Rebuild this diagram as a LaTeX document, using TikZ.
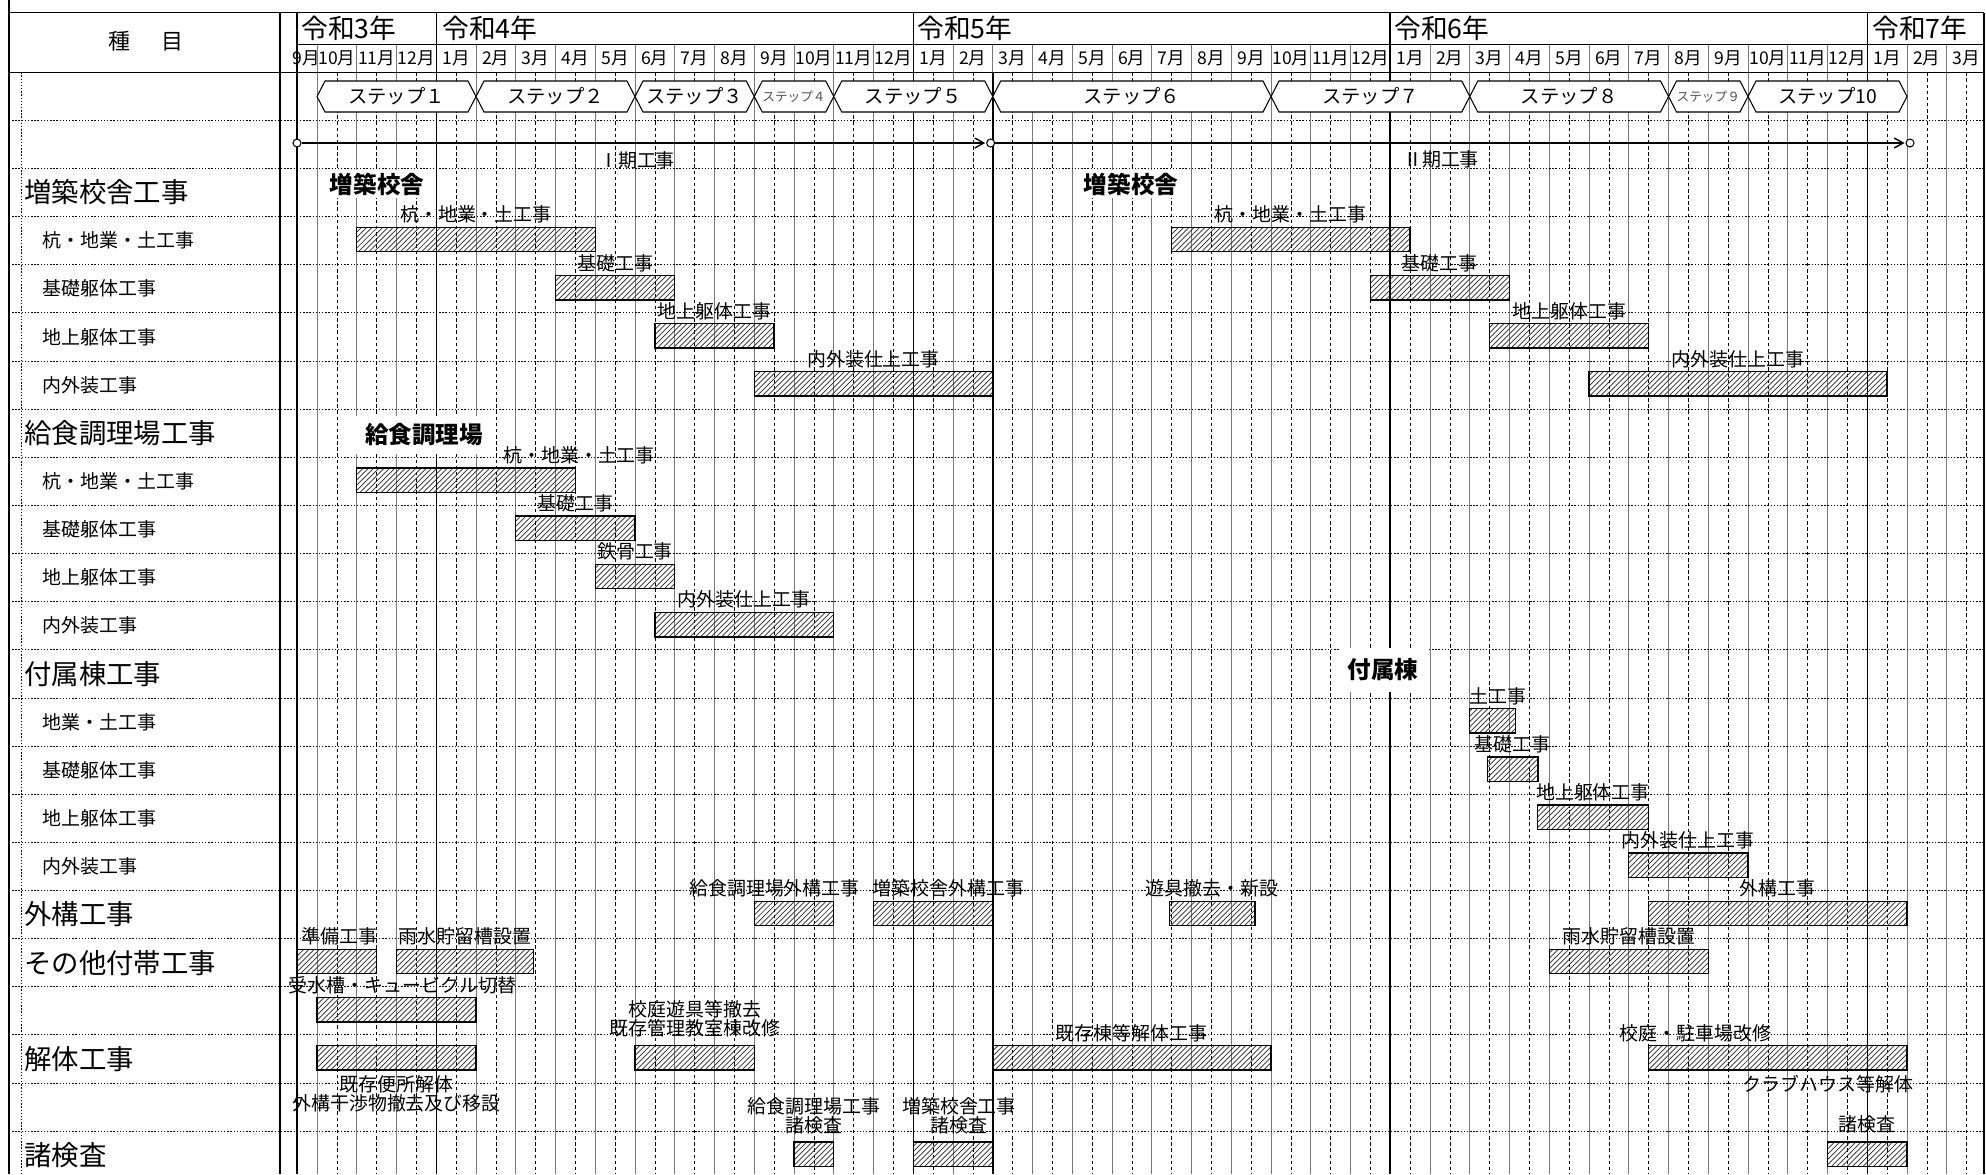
\documentclass[tikz,border=0pt]{standalone}
\usepackage{fontspec}
\setmainfont{Noto Sans CJK JP}
\usetikzlibrary{arrows.meta,positioning,patterns}
\definecolor{gridgray}{RGB}{120,120,120}
\definecolor{hatchgray}{RGB}{40,40,40}
\definecolor{smallstepgray}{RGB}{80,80,80}
\pgfmathdeclarefunction{monthx}{1}{\pgfmathparse{317+39.75*(#1)}}
\pgfmathdeclarefunction{rowtop}{1}{\pgfmathparse{72.2+48.13*(#1)}}
\tikzset{
  frameline/.style={draw=black, line width=0.7pt},
  monthline/.style={draw=gridgray, line width=0.5pt},
  halfline/.style={draw=black, line width=0.4pt, dash pattern=on 2pt off 1.5pt},
  yearline/.style={draw=black, line width=0.75pt},
  phaseline/.style={draw=black, line width=1.3pt},
  rowline/.style={draw=black, line width=0.45pt, dash pattern=on 0.8pt off 1pt},
  barbox/.style={rectangle, draw=black, line width=0.8pt, pattern=north east lines, pattern color=hatchgray, minimum height=0.488cm, inner sep=0pt, outer sep=0pt},
  barlabel/.style={inner sep=0pt, align=center, font=\fontsize{10.8}{10.8}\selectfont},
  biglabel/.style={anchor=west, inner sep=0pt, font=\fontsize{15.6}{16}\selectfont},
  itemlabel/.style={anchor=west, inner sep=0pt, font=\fontsize{10.8}{11}\selectfont},
  sectionlabel/.style={fill=white, inner xsep=5pt, inner ysep=4.5pt, font=\fontsize{13.4}{14}\selectfont\bfseries},
  headlabel/.style={inner sep=0pt, font=\fontsize{12.5}{13}\selectfont},
  yearlabel/.style={anchor=west, inner sep=0pt, font=\fontsize{15.2}{16}\selectfont},
  monthlabel/.style={inner sep=0pt, font=\fontsize{10}{10}\selectfont},
  stepshape/.style={draw=black, line width=0.6pt, fill=white, line join=miter},
  steptext/.style={inner sep=0pt, font=\fontsize{11}{11}\selectfont},
  smallstep/.style={inner sep=0pt, text=smallstepgray, font=\fontsize{7.2}{7.2}\selectfont},
  periodmark/.style={circle, draw=black, line width=0.6pt, fill=white, minimum size=0.16cm, inner sep=0pt},
  periodflow/.style={-{Straight Barb[length=1.8mm,width=2mm]}, draw=black, line width=0.8pt, shorten >=0.5pt},
  periodlabel/.style={inner sep=0pt, font=\fontsize{10.8}{11}\selectfont}
}
\newcommand{\workbar}[4]{%
  \node[barbox, anchor=north west, minimum width={(#4-(#3))*0.795cm}] (#1) at ({monthx(#3)},{rowtop(#2)+10.8}) {};}
\newcommand{\stephex}[5]{%
  \draw[stepshape] ({monthx(#2)},96.5) -- ({monthx(#2)+8},81) -- ({monthx(#3)-8},81) -- ({monthx(#3)},96.5) -- ({monthx(#3)-8},112) -- ({monthx(#2)+8},112) -- cycle;
  \node[#4] (#1) at ({monthx((#2+#3)/2)},96.5) {#5};}

\begin{document}
\begin{tikzpicture}[x=0.02cm, y=-0.02cm, node distance=2pt]
  \useasboundingbox (0,0) rectangle (1986,1174);

  % grid
  \foreach \m in {0,...,41} \draw[halfline] ({monthx(\m+0.5)},72.2) -- ({monthx(\m+0.5)},1174);
  \foreach \m in {0,...,41} \draw[monthline] ({monthx(\m)},44.3) -- ({monthx(\m)},1174);
  \foreach \k in {1,...,22} \draw[rowline] (9,{rowtop(\k)}) -- (1984,{rowtop(\k)});
  \draw[rowline] (21.5,72.2) -- (21.5,1174);
  \foreach \m in {3,15,39} \draw[yearline] ({monthx(\m)},12.7) -- ({monthx(\m)},1174);
  \draw[phaseline] ({monthx(27)},12.7) -- ({monthx(27)},1174);
  \draw[phaseline] ({monthx(17)},72.2) -- ({monthx(17)},1174);
  \draw[frameline] (9,0) -- (9,1174);
  \draw[frameline] (9,12.7) -- (1984,12.7);
  \draw[frameline] (297,44.3) -- (1984,44.3);
  \draw[frameline] (9,72.2) -- (1984,72.2);
  \draw[frameline] (280,12.7) -- (280,1174);
  \draw[frameline] (297,12.7) -- (297,1174);
  \draw[frameline] (1984,12.7) -- (1984,1174);

  % header
  \node[headlabel] (kind) at (146,41.5) {種\hspace{1.4em}目};
  \node[yearlabel] (yr3) at (301,28) {令和3年};
  \node[yearlabel] (yr4) at (442,28) {令和4年};
  \node[yearlabel] (yr5) at (917,28) {令和5年};
  \node[yearlabel] (yr6) at (1394,28) {令和6年};
  \node[yearlabel] (yr7) at (1872,28) {令和7年};
  \node[monthlabel] (monsep) at (306,58.3) {9月};
  \foreach \m in {0,...,41}{
    \pgfmathtruncatemacro{\mon}{mod(\m+9,12)+1}
    \node[monthlabel] (mon\m) at ({monthx(\m+0.5)},58.3) {\mon 月};
  }

  % steps
  \stephex{st1}{0}{4}{steptext}{ステップ１}
  \stephex{st2}{4}{8}{steptext}{ステップ２}
  \stephex{st3}{8}{11}{steptext}{ステップ３}
  \stephex{st4}{11}{13}{smallstep}{ステップ４}
  \stephex{st5}{13}{17}{steptext}{ステップ５}
  \stephex{st6}{17}{24}{steptext}{ステップ６}
  \stephex{st7}{24}{29}{steptext}{ステップ７}
  \stephex{st8}{29}{34}{steptext}{ステップ８}
  \stephex{st9}{34}{36}{smallstep}{ステップ９}
  \stephex{st10}{36}{40}{steptext}{ステップ10}

  % periods
  \node[periodmark] (p1a) at (297,143) {};
  \node[periodmark] (p1b) at (990.6,143) {};
  \node[periodmark] (p2b) at (1910,143) {};
  \draw[periodflow] (p1a) -- (p1b);
  \draw[periodflow] (p1b) -- (p2b);
  \node[periodlabel] (per1) at (637,160) {Ⅰ期工事};
  \node[periodlabel] (per2) at (1441,159) {Ⅱ期工事};

  % item column
  \node[biglabel] (sec2) at (24,{rowtop(2)+24.07}) {増築校舎工事};
  \node[itemlabel] (it3) at (42,{rowtop(3)+24.07}) {杭・地業・土工事};
  \node[itemlabel] (it4) at (42,{rowtop(4)+24.07}) {基礎躯体工事};
  \node[itemlabel] (it5) at (42,{rowtop(5)+24.07}) {地上躯体工事};
  \node[itemlabel] (it6) at (42,{rowtop(6)+24.07}) {内外装工事};
  \node[biglabel] (sec7) at (24,{rowtop(7)+24.07}) {給食調理場工事};
  \node[itemlabel] (it8) at (42,{rowtop(8)+24.07}) {杭・地業・土工事};
  \node[itemlabel] (it9) at (42,{rowtop(9)+24.07}) {基礎躯体工事};
  \node[itemlabel] (it10) at (42,{rowtop(10)+24.07}) {地上躯体工事};
  \node[itemlabel] (it11) at (42,{rowtop(11)+24.07}) {内外装工事};
  \node[biglabel] (sec12) at (24,{rowtop(12)+24.07}) {付属棟工事};
  \node[itemlabel] (it13) at (42,{rowtop(13)+24.07}) {地業・土工事};
  \node[itemlabel] (it14) at (42,{rowtop(14)+24.07}) {基礎躯体工事};
  \node[itemlabel] (it15) at (42,{rowtop(15)+24.07}) {地上躯体工事};
  \node[itemlabel] (it16) at (42,{rowtop(16)+24.07}) {内外装工事};
  \node[biglabel] (sec17) at (24,{rowtop(17)+24.07}) {外構工事};
  \node[biglabel] (sec18) at (24,{rowtop(18)+24.07}) {その他付帯工事};
  \node[biglabel] (sec20) at (24,{rowtop(20)+24.07}) {解体工事};
  \node[biglabel] (sec22) at (24,{rowtop(22)+24.07}) {諸検査};

  % bars
  \workbar{b3a}{3}{1}{7}
  \workbar{b3b}{3}{21.5}{27.5}
  \workbar{b4a}{4}{6}{9}
  \workbar{b4b}{4}{26.5}{30}
  \workbar{b5a}{5}{8.5}{11.5}
  \workbar{b5b}{5}{29.5}{33.5}
  \workbar{b6a}{6}{11}{17}
  \workbar{b6b}{6}{32}{39.5}
  \workbar{b8a}{8}{1}{6.5}
  \workbar{b9a}{9}{5}{8}
  \workbar{b10a}{10}{7}{9}
  \workbar{b11a}{11}{8.5}{13}
  \workbar{b13a}{13}{29}{30.15}
  \workbar{b14a}{14}{29.45}{30.72}
  \workbar{b15a}{15}{30.7}{33.5}
  \workbar{b16a}{16}{33}{36}
  \workbar{b17a}{17}{11}{13}
  \workbar{b17b}{17}{14}{17}
  \workbar{b17c}{17}{21.45}{23.6}
  \workbar{b17d}{17}{33.5}{40}
  \workbar{b18a}{18}{-0.5}{1.5}
  \workbar{b18b}{18}{2}{5.45}
  \workbar{b18c}{18}{31}{35}
  \workbar{b19a}{19}{0}{4}
  \workbar{b20a}{20}{0}{4}
  \workbar{b20b}{20}{8}{11}
  \workbar{b20c}{20}{17}{24}
  \workbar{b20d}{20}{33.5}{40}
  \workbar{b22a}{22}{12}{13}
  \workbar{b22b}{22}{15}{17}
  \workbar{b22c}{22}{38}{40}

  % bar labels
  \node[barlabel, above=of b3a] (l3a) {杭・地業・土工事};
  \node[barlabel, above=of b3b] (l3b) {杭・地業・土工事};
  \node[barlabel, above=of b4a] (l4a) {基礎工事};
  \node[barlabel, above=of b4b] (l4b) {基礎工事};
  \node[barlabel, above=of b5a] (l5a) {地上躯体工事};
  \node[barlabel, above=of b5b] (l5b) {地上躯体工事};
  \node[barlabel, above=of b6a] (l6a) {内外装仕上工事};
  \node[barlabel, above=of b6b] (l6b) {内外装仕上工事};
  \node[barlabel, above=of b8a, xshift=2.26cm] (l8a) {杭・地業・土工事};
  \node[barlabel, above=of b9a] (l9a) {基礎工事};
  \node[barlabel, above=of b10a] (l10a) {鉄骨工事};
  \node[barlabel, above=of b11a] (l11a) {内外装仕上工事};
  \node[barlabel, above=of b13a, xshift=0.1cm] (l13a) {土工事};
  \node[barlabel, above=of b14a] (l14a) {基礎工事};
  \node[barlabel, above=of b15a] (l15a) {地上躯体工事};
  \node[barlabel, above=of b16a] (l16a) {内外装仕上工事};
  \node[barlabel, above=of b17a, xshift=-0.39cm] (l17a) {給食調理場外構工事};
  \node[barlabel, above=of b17b, xshift=0.3cm] (l17b) {増築校舎外構工事};
  \node[barlabel, above=of b17c] (l17c) {遊具撤去・新設};
  \node[barlabel, above=of b17d] (l17d) {外構工事};
  \node[barlabel, above=of b18a, xshift=0.06cm] (l18a) {準備工事};
  \node[barlabel, above=of b18b] (l18b) {雨水貯留槽設置};
  \node[barlabel, above=of b18c] (l18c) {雨水貯留槽設置};
  \node[barlabel, above=of b19a, xshift=0.12cm] (l19a) {受水槽・キュービクル切替};
  \node[barlabel, below=3pt of b20a] (l20a) {既存便所解体\\外構干渉物撤去及び移設};
  \node[barlabel, above=4.5pt of b20b] (l20b) {校庭遊具等撤去\\既存管理教室棟改修};
  \node[barlabel, above=of b20c] (l20c) {既存棟等解体工事};
  \node[barlabel, above=of b20d, xshift=-1.65cm] (l20d) {校庭・駐車場改修};
  \node[barlabel, below=3pt of b20d, xshift=1cm] (l20e) {クラブハウス等解体};
  \node[barlabel, above=4.5pt of b22a] (l22a) {給食調理場工事\\諸検査};
  \node[barlabel, above=4.5pt of b22b, xshift=0.12cm] (l22b) {増築校舎工事\\諸検査};
  \node[barlabel, above=5pt of b22c] (l22c) {諸検査};

  % building headings
  \node[sectionlabel, inner ysep=1.5pt] (zochiku1) at (377,184) {増築校舎};
  \node[sectionlabel, inner ysep=1.5pt] (zochiku2) at (1131,184) {増築校舎};
  \node[sectionlabel] (kyushoku) at (424,435) {給食調理場};
  \node[sectionlabel, inner ysep=6pt] (fuzoku) at (1383,670) {付属棟};
\end{tikzpicture}
\end{document}
